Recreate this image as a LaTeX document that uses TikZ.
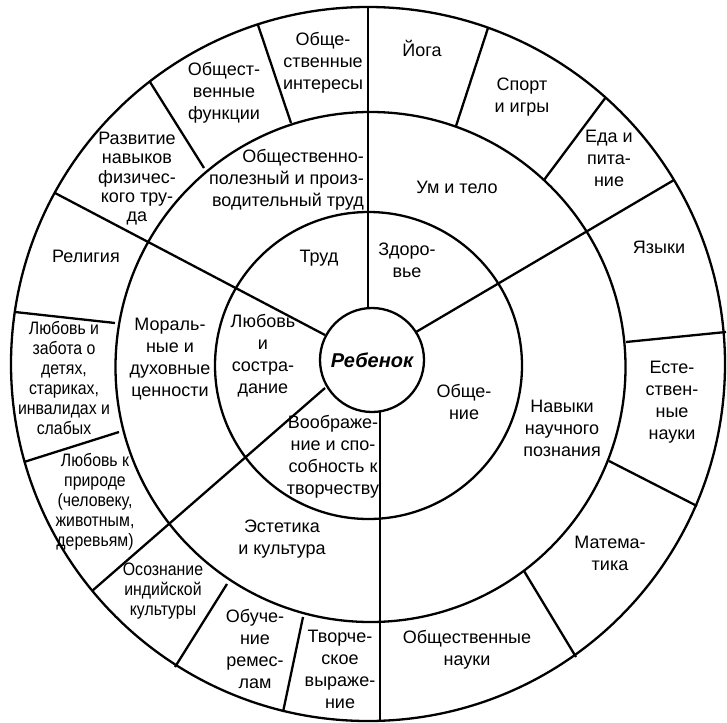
\documentclass[tikz,border=0pt]{standalone}
\usepackage{graphicx}
\usepackage{fontspec}
\setmainfont{Liberation Sans}
\newcommand\cnd[1]{\scalebox{0.88}[1]{#1}}
\begin{document}
\begin{tikzpicture}[x=1pt,y=-1pt,
  ln/.style={line width=2.3pt},
  lbl/.style={align=center, inner sep=0pt, font=\fontsize{18}{22}\selectfont,
    execute at begin node=\strut, execute at end node=\strut},
  tight/.style={lbl, font=\fontsize{18}{20}\selectfont},
  tighter/.style={lbl, font=\fontsize{18}{19.3}\selectfont},
  hub/.style={inner sep=0pt, font=\fontsize{20}{24}\selectfont\bfseries\itshape}]
\useasboundingbox (0,0) rectangle (727,722);
\fill[white] (0,0) rectangle (727,722);
% rings
\draw[ln] (368,364) circle[radius=357pt];
\draw[ln] (370.5,367) circle[radius=255pt];
\draw[ln] (368.5,365.5) circle[radius=153.5pt];
% main spokes
\draw[ln] (368,308) -- (368,7);
\draw[ln] (380,412) -- (380,720);
\draw[ln] (416,332) -- (674,180);
\draw[ln] (325,335) -- (55,193);
\draw[ln] (325,388) -- (92,591);
% outer dividers
\draw[ln] (291,123) -- (258,25);
\draw[ln] (204,168) -- (150,82);
\draw[ln] (456,126) -- (488,28);
\draw[ln] (544,180) -- (606,97);
\draw[ln] (626,342) -- (726,332);
\draw[ln] (609,461) -- (697,506);
\draw[ln] (524,571) -- (576,657);
\draw[ln] (303,617) -- (283,712);
\draw[ln] (227,584) -- (175,667);
\draw[ln] (119,432) -- (24,462);
\draw[ln] (115,323) -- (15,312);
% centre
\draw[ln, fill=white] (372,360) circle[radius=52pt];
\node[hub] (child) at (372,360) {Ребенок};
% inner ring
\node[lbl] (trud) at (319,258) {Труд};
\node[lbl] (zdor) at (407,264) {Здоро-\\вье};
\node[lbl] (obsch) at (464,405) {Обще-\\ние};
\node[lbl] (voobr) at (333,458) {Воображе-\\ние и спо-\\собность к\\творчеству};
\node[lbl] (lyub) at (263,357) {Любовь\\и\\состра-\\дание};
% middle ring
\node[lbl, align=right, anchor=east] (obpol) at (364,181) {Общественно-\\полезный и произ-\\водительный труд};
\node[lbl] (um) at (457,189) {Ум и тело};
\node[lbl] (navyk) at (562,432) {Навыки\\научного\\познания};
\node[lbl] (estet) at (282,541) {Эстетика\\и культура};
\node[lbl] (moral) at (170,361) {Мораль-\\ные и\\духовные\\ценности};
% outer ring
\node[lbl] (yoga) at (422,52) {Йога};
\node[lbl] (sport) at (522,99) {Спорт\\и игры};
\node[lbl] (eda) at (609,161.5) {Еда и\\пита-\\ние};
\node[lbl] (yaz) at (659,249) {Языки};
\node[lbl] (estn) at (672,403.5) {Есте-\\ствен-\\ные\\науки};
\node[lbl] (mat) at (610,557) {Матема-\\тика};
\node[lbl] (obn) at (467,651.5) {Общественные\\науки};
\node[lbl] (tvor) at (340,672.5) {Творче-\\ское\\выраже-\\ние};
\node[lbl] (remes) at (255,652.5) {Обуче-\\ние\\ремес-\\лам};
\node[tight] (ind) at (163,592) {\cnd{Осознание}\\\cnd{индийской}\\\cnd{культуры}};
\node[tight] (prir) at (95,503) {\cnd{Любовь к}\\\cnd{природе}\\\cnd{(человеку,}\\\cnd{животным,}\\\cnd{деревьям)}};
\node[tight] (zab) at (64,381) {\cnd{Любовь и}\\\cnd{забота о}\\\cnd{детях,}\\\cnd{стариках,}\\\cnd{инвалидах и}\\\cnd{слабых}};
\node[lbl] (rel) at (86,258) {Религия};
\node[tighter] (razv) at (137,180) {Развитие\\навыков\\физичес-\\кого тру-\\да};
\node[lbl] (func) at (224,94.5) {Общест-\\венные\\функции};
\node[lbl] (inter) at (323,64.5) {Обще-\\ственные\\интересы};
\end{tikzpicture}
\end{document}
